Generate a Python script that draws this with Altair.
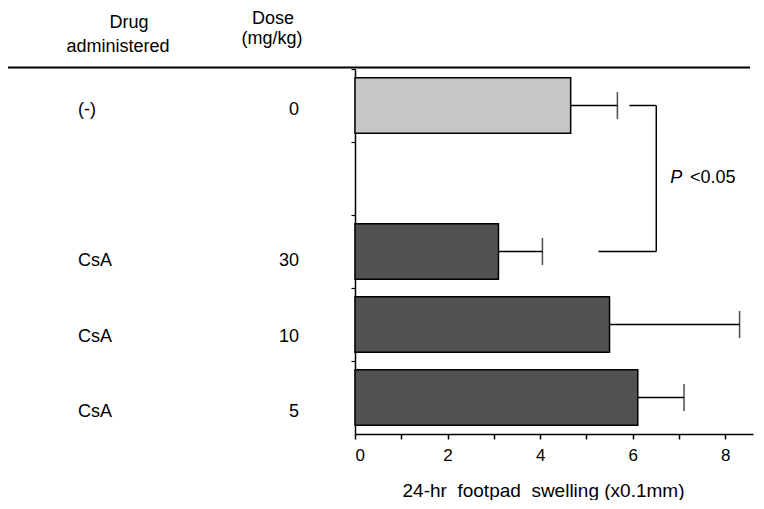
import altair as alt
import pandas as pd

# ---- data ----
row_keys = ["none_0", "blank", "csa_30", "csa_10", "csa_5"]
bar_rows = ["none_0", "csa_30", "csa_10", "csa_5"]
drugs = ["(-)", "CsA", "CsA", "CsA"]
doses = ["0", "30", "10", "5"]
means = [4.66, 3.10, 5.50, 6.11]
err_top = [5.67, 4.05, 8.31, 7.11]
groups = ["control", "CsA", "CsA", "CsA"]

x_ticks = [0, 1, 2, 3, 4, 5, 6, 7, 8]
x_max = 8.6

# significance bracket (data units)
br_top_start = 5.93
br_bottom_start = 5.26
br_x = 6.51

FONT = "Liberation Sans"
NB = "\u00a0"

df = pd.DataFrame({
    "row": bar_rows, "drug": drugs, "dose": doses,
    "mean": means, "hi": err_top, "group": groups,
})

yscale = alt.Scale(domain=row_keys, paddingInner=0, paddingOuter=0)
# the printed row labels sit on a slightly stretched grid relative to the bars
label_scale = alt.Scale(domain=row_keys, paddingInner=0, paddingOuter=0, range=[3, 381])
xscale = alt.Scale(domain=[0, x_max], nice=False, zero=True)

xaxis = alt.Axis(
    values=x_ticks,
    labelExpr="datum.value % 2 == 0 ? datum.label : ''",
    grid=False, tickSize=5, tickWidth=1.5, tickColor="black",
    domainColor="black", domainWidth=1.5,
    labelFont=FONT, labelFontSize=17, labelColor="black", labelPadding=8,
    title=f"24-hr{NB}{NB}footpad{NB}{NB}swelling (x0.1mm)",
    titleFont=FONT, titleFontSize=19, titleFontWeight="normal", titleColor="black",
    titleX=188, titleY=62, titleBaseline="alphabetic",
)
yaxis = alt.Axis(
    labels=False, title=None, grid=False, bandPosition=0,
    tickSize=4, tickWidth=1.2, tickColor="black",
    domainColor="black", domainWidth=1.5,
)

base = alt.Chart(df)

bars = base.mark_bar(
    height=alt.RelativeBandSize(0.76), stroke="black", strokeWidth=1.5
).encode(
    y=alt.Y("row:N", scale=yscale, axis=yaxis),
    x=alt.X("mean:Q", scale=xscale, axis=xaxis),
    color=alt.Color("group:N",
                    scale=alt.Scale(domain=["control", "CsA"], range=["#c6c6c6", "#515151"]),
                    legend=None),
)

err = base.mark_rule(color="black", strokeWidth=1.5).encode(
    y=alt.Y("row:N", scale=yscale),
    x=alt.X("mean:Q", scale=xscale),
    x2="hi:Q",
)
caps = base.mark_tick(color="black", thickness=1.5, size=27, orient="vertical").encode(
    y=alt.Y("row:N", scale=yscale),
    x=alt.X("hi:Q", scale=xscale),
)

# bracket
br_h = pd.DataFrame({
    "row": ["none_0", "csa_30"],
    "x1": [br_top_start, br_bottom_start],
    "x2": [br_x, br_x],
})
br_v = pd.DataFrame({"r1": ["none_0"], "r2": ["csa_30"], "x": [br_x]})
bracket_h = alt.Chart(br_h).mark_rule(color="black", strokeWidth=1.5).encode(
    y=alt.Y("row:N", scale=yscale), x=alt.X("x1:Q", scale=xscale), x2="x2:Q")
bracket_v = alt.Chart(br_v).mark_rule(color="black", strokeWidth=1.5).encode(
    x=alt.X("x:Q", scale=xscale), y=alt.Y("r1:N", scale=yscale), y2="r2:N")

p_df = pd.DataFrame({"row": ["blank", "blank"], "x": [6.81, 7.24], "t": ["P", "<0.05"]})
p_italic = alt.Chart(p_df.iloc[[0]]).mark_text(
    align="left", baseline="middle", font=FONT, fontSize=18, fontStyle="italic",
    color="black", dy=-1
).encode(y=alt.Y("row:N", scale=yscale), x=alt.X("x:Q", scale=xscale), text="t:N")
p_rest = alt.Chart(p_df.iloc[[1]]).mark_text(
    align="left", baseline="middle", font=FONT, fontSize=18, color="black", dy=-1
).encode(y=alt.Y("row:N", scale=yscale), x=alt.X("x:Q", scale=xscale), text="t:N")

main = alt.layer(bars, err, caps, bracket_h, bracket_v, p_italic, p_rest)

# row labels (own y grid)
drug_labels = base.mark_text(
    align="left", baseline="middle", font=FONT, fontSize=18, color="black"
).encode(y=alt.Y("row:N", scale=label_scale, axis=None), x=alt.value(-277), text="drug:N")
dose_labels = base.mark_text(
    align="right", baseline="middle", font=FONT, fontSize=18, color="black"
).encode(y=alt.Y("row:N", scale=label_scale, axis=None), x=alt.value(-56), text="dose:N")
labels = alt.layer(drug_labels, dose_labels)

# header and top rule
hdr = pd.DataFrame({"t": ["Drug", "administered", "Dose", "(mg/kg)"]})
def header(i, x, y):
    return alt.Chart(hdr.iloc[[i]]).mark_text(
        align="center", baseline="alphabetic", font=FONT, fontSize=18, color="black"
    ).encode(x=alt.value(x), y=alt.value(y), text="t:N")

h1 = header(0, -226, -41)
h2 = header(1, -237, -17)
h3 = header(2, -82, -45)
h4 = header(3, -83, -25)
top_rule = alt.Chart(hdr.iloc[[0]]).mark_rule(color="black", strokeWidth=2).encode(
    x=alt.value(-347), x2=alt.value(395), y=alt.value(-1.5))
heads = alt.layer(h1, h2, h3, h4, top_rule)

chart = alt.layer(main, labels, heads).resolve_scale(y="independent").properties(
    width=398, height=365,
    autosize=alt.AutoSizeParams(type="none"),
    padding={"left": 347, "top": 61, "right": 3, "bottom": 66},
    background="white",
).configure_view(strokeWidth=0)

chart.save("out.html", embed_options={"renderer": "svg", "actions": False})
